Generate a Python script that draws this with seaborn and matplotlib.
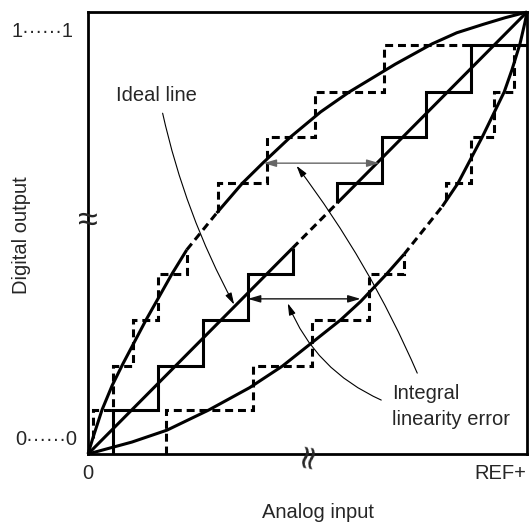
import matplotlib
matplotlib.use("Agg")
import matplotlib.pyplot as plt
import seaborn as sns

# ---- data (fractions of full scale) ----
levels_low = [0.0995, 0.200, 0.303, 0.407]
levels_high = [0.613, 0.717, 0.819, 0.926]

ideal_risers_low = [0.057, 0.159, 0.261, 0.364, 0.466]
ideal_risers_high = [0.568, 0.670, 0.770, 0.873]
upper_risers_low = [0.011, 0.057, 0.102, 0.159, 0.225]
upper_risers_high = [0.295, 0.407, 0.516, 0.675]
lower_risers_low = [0.177, 0.375, 0.511, 0.639, 0.720]
lower_risers_high = [0.816, 0.873, 0.925, 0.970]
# where the stair ends meet the lines / curves
ideal_ends = [0.0, 0.466, 0.568]
upper_ends = [0.037, 0.462, 0.547]
lower_ends = [0.0, 0.452, 0.575]

ideal_u = [0.0, 0.466, 0.568, 1.0]
ideal_v = [0.0, 0.466, 0.568, 1.0]

upper_u = [0, 0.012, 0.032, 0.055, 0.08, 0.132, 0.191, 0.225,
           0.293, 0.352, 0.40, 0.461, 0.53, 0.595, 0.65, 0.70, 0.784,
           0.84, 0.90, 0.95, 1.0]
upper_v = [0, 0.039, 0.10, 0.155, 0.205, 0.303, 0.407, 0.462,
           0.545, 0.613, 0.66, 0.717, 0.774, 0.819, 0.852, 0.882, 0.928,
           0.953, 0.972, 0.987, 1.0]
upper_gap = (7, 8)   # indices bounding dashed part

lower_u = [0, 0.10, 0.18, 0.275, 0.368, 0.443, 0.575, 0.621, 0.68, 0.720,
           0.807, 0.843, 0.898, 0.948, 0.966, 0.984, 0.995, 1.0]
lower_v = [0, 0.027, 0.054, 0.0995, 0.15, 0.199, 0.303, 0.345, 0.407, 0.452,
           0.56, 0.613, 0.717, 0.819, 0.870, 0.928, 0.975, 1.0]
lower_gap = (9, 10)

# error arrows: (y, x_from, x_to)
err_upper = (0.658, 0.400, 0.664)
err_lower = (0.351, 0.364, 0.621)


def stair(risers, levels, y_start, y_end=None, x_end=None):
    xs, ys = [], []
    prev = y_start
    for i, r in enumerate(risers):
        lv = levels[i] if i < len(levels) else y_end
        xs += [r, r]
        ys += [prev, lv]
        prev = lv
    if x_end is not None:
        xs.append(x_end)
        ys.append(prev)
    return xs, ys


sns.set_style("white")
plt.rcParams["font.family"] = ["Liberation Sans", "DejaVu Sans"]

fig = plt.figure(figsize=(5.29, 5.26), dpi=100)
ax = fig.add_axes([88 / 529, 72 / 526, 439 / 529, 442 / 526])
ax.set_xlim(0, 1)
ax.set_ylim(0, 1)

LW = 2.2
DASH = (0, (2.6, 1.6))
common = dict(sort=False, estimator=None, color="black", ax=ax,
              legend=False)


def solid(xs, ys, lw=LW):
    sns.lineplot(x=xs, y=ys, linewidth=lw, solid_joinstyle="miter",
                 solid_capstyle="butt", **common)


def dashed(xs, ys, lw=LW):
    sns.lineplot(x=xs, y=ys, linewidth=lw, linestyle=DASH,
                 dash_joinstyle="miter", **common)


# ideal line
solid(ideal_u[:2], ideal_v[:2])
dashed(ideal_u[1:3], ideal_v[1:3])
solid(ideal_u[2:], ideal_v[2:])

# curves
a, b = upper_gap
solid(upper_u[:a + 1], upper_v[:a + 1])
dashed(upper_u[a:b + 1], upper_v[a:b + 1])
solid(upper_u[b:], upper_v[b:])
a, b = lower_gap
solid(lower_u[:a + 1], lower_v[:a + 1])
dashed(lower_u[a:b + 1], lower_v[a:b + 1])
solid(lower_u[b:], lower_v[b:])

# ideal staircase
solid(*stair(ideal_risers_low, levels_low, ideal_ends[0], y_end=ideal_ends[1]))
solid(*stair(ideal_risers_high, levels_high, ideal_ends[2], x_end=1.0))
# upper (dashed) staircase
dashed(*stair(upper_risers_low, levels_low, upper_ends[0], y_end=upper_ends[1]))
dashed(*stair(upper_risers_high, levels_high, upper_ends[2],
              x_end=ideal_risers_high[-1]))
# lower (dashed) staircase
dashed(*stair(lower_risers_low, levels_low, lower_ends[0], y_end=lower_ends[1]))
dashed(*stair(lower_risers_high, levels_high, lower_ends[2], x_end=1.0))

for ln in ax.lines:
    ln.set_clip_on(False)

# error arrows
for (yy, x0, x1), col in ((err_upper, "#666666"), (err_lower, "#111111")):
    ax.annotate("", xy=(x1, yy), xytext=(x0, yy),
                arrowprops=dict(arrowstyle="<|-|>,head_length=0.75,head_width=0.22",
                                color=col, lw=1.0, shrinkA=0, shrinkB=0,
                                mutation_scale=10))

# annotation pointers
ann = dict(arrowstyle="-|>,head_length=0.7,head_width=0.2", color="black",
           lw=0.8, shrinkA=0, shrinkB=0, mutation_scale=10)
ax.annotate("", xy=(0.333, 0.338), xytext=(0.170, 0.771),
            arrowprops=dict(connectionstyle="arc3,rad=0.07", **ann))
ax.annotate("", xy=(0.475, 0.652), xytext=(0.750, 0.183),
            arrowprops=dict(connectionstyle="arc3,rad=0.06", **ann))
ax.annotate("", xy=(0.455, 0.341), xytext=(0.668, 0.122),
            arrowprops=dict(connectionstyle="arc3,rad=-0.2", **ann))

FS = 14.5
ax.text(0.064, 0.812, "Ideal line", fontsize=FS, ha="left", va="center")
ax.text(0.693, 0.138, "Integral", fontsize=FS, ha="left", va="center")
ax.text(0.693, 0.077, "linearity error", fontsize=FS, ha="left", va="center")

ax.text(-0.034, 0.955, "1\u00b7\u00b7\u00b7\u00b7\u00b7\u00b71", fontsize=FS,
        ha="right", va="center", clip_on=False)
ax.text(-0.025, 0.032, "0\u00b7\u00b7\u00b7\u00b7\u00b7\u00b70", fontsize=FS,
        ha="right", va="center", clip_on=False)
ax.text(0.0, -0.043, "0", fontsize=FS, ha="center", va="center", clip_on=False)
ax.text(0.998, -0.043, "REF+", fontsize=FS, ha="right", va="center",
        clip_on=False)
ax.text(0.523, -0.133, "Analog input", fontsize=FS, ha="center", va="center",
        clip_on=False)
ax.text(-0.152, 0.495, "Digital output", fontsize=FS, ha="center",
        va="center", rotation=90, clip_on=False)

# axis break marks
ax.text(0.0, 0.527, "\u2248", fontsize=26, ha="center", va="center",
        family=["Liberation Sans", "DejaVu Sans"], clip_on=False)
ax.text(0.498, 0.0, "\u2248", fontsize=24, ha="center", va="center",
        rotation=80, family=["DejaVu Sans"], clip_on=False)

ax.set_xticks([])
ax.set_yticks([])
ax.set_xlabel("")
ax.set_ylabel("")
for sp in ax.spines.values():
    sp.set_visible(True)
    sp.set_color("black")
    sp.set_linewidth(2.0)

fig.savefig("out.png", dpi=100)
